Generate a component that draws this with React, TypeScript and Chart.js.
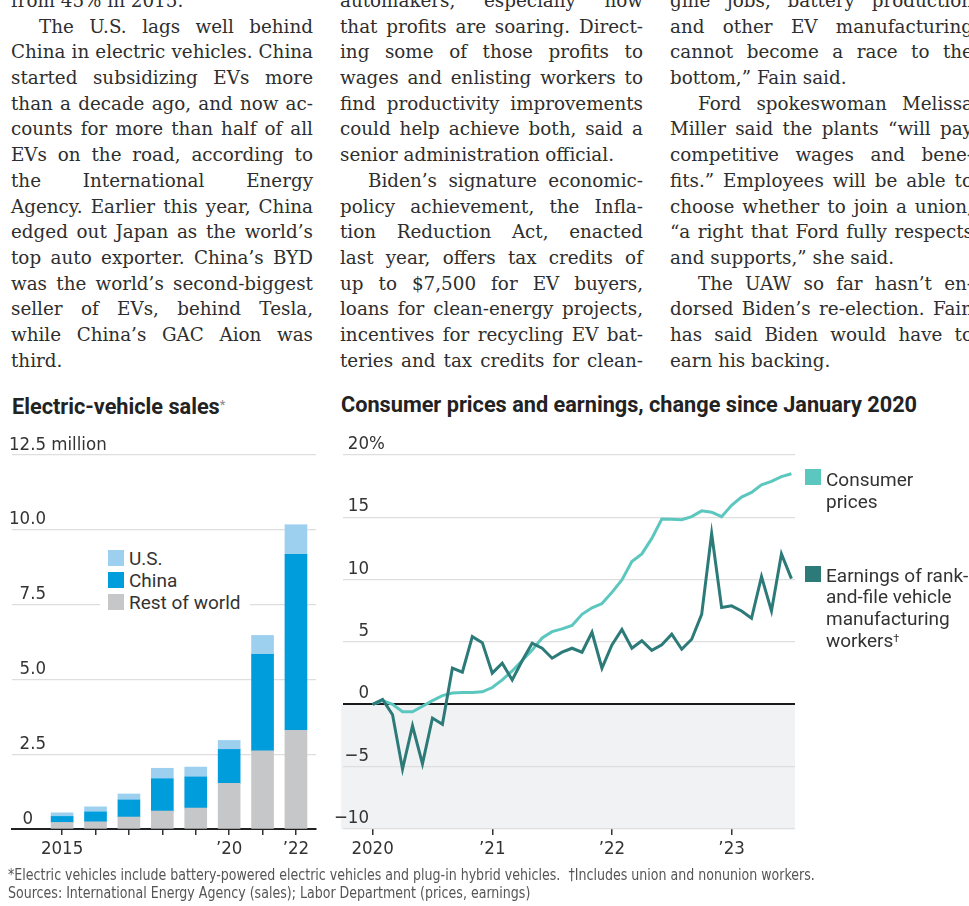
import React, { useEffect, useRef } from 'react';
import { Chart, registerables } from 'chart.js';
Chart.register(...registerables);

// ---------- Data: EV sales (millions) ----------
const evYears = [2015, 2016, 2017, 2018, 2019, 2020, 2021, 2022];
const evRest = [0.22, 0.24, 0.40, 0.60, 0.70, 1.53, 2.61, 3.30];
const evChina = [0.20, 0.33, 0.57, 1.08, 1.04, 1.13, 3.23, 5.88];
const evUS = [0.12, 0.17, 0.20, 0.35, 0.33, 0.30, 0.63, 0.99];
const evXTickLabels = ['2015', '', '', '', '', '\u201920', '', '\u201922'];
const evYTickLabels = ['0', '2.5', '5.0', '7.5', '10.0', '12.5'];

// ---------- Data: prices and earnings (% change since Jan 2020), monthly Jan 2020 - Jul 2023 ----------
const monthIndex = [
  0, 1, 2, 3, 4, 5, 6, 7, 8, 9, 10, 11,
  12, 13, 14, 15, 16, 17, 18, 19, 20, 21, 22, 23,
  24, 25, 26, 27, 28, 29, 30, 31, 32, 33, 34, 35,
  36, 37, 38, 39, 40, 41, 42,
];
const consumerPrices = [
  0, 0.3, 0.0, -0.6, -0.6, -0.15, 0.3, 0.7, 0.9, 0.95, 0.95, 1.0,
  1.35, 1.96, 2.68, 3.52, 4.35, 5.32, 5.83, 6.05, 6.33, 7.22, 7.74, 8.08,
  8.98, 9.98, 11.45, 12.07, 13.31, 14.86, 14.85, 14.81, 15.06, 15.52, 15.41, 15.05,
  15.97, 16.62, 17.0, 17.6, 17.89, 18.27, 18.5,
];
const earnings = [
  0, 0.4, -0.84, -5.2, -1.72, -4.77, -1.1, -1.6, 2.9, 2.58, 5.43, 4.95,
  2.5, 3.3, 1.96, 3.5, 4.9, 4.5, 3.7, 4.18, 4.5, 4.18, 5.78, 2.9,
  4.77, 6.0, 4.5, 5.1, 4.33, 4.77, 5.62, 4.42, 5.22, 7.22, 13.7, 7.76,
  7.9, 7.49, 6.9, 10.24, 7.49, 12.06, 10.08,
];
const yearTickMonths = [0, 12, 24, 36];
const yearTickLabels = ['2020', '\u201921', '\u201922', '\u201923'];
const pctYTickLabels = ['\u221210', '\u22125', '0', '5', '10', '15', '20'];

// ---------- Article text ----------
const col1: [string, string][] = [
  ['from 45% in 2015.', 'l'],
  ['The U.S. lags well behind', 'ji'],
  ['China in electric vehicles. China', 'j'],
  ['started subsidizing EVs more', 'j'],
  ['than a decade ago, and now ac-', 'j'],
  ['counts for more than half of all', 'j'],
  ['EVs on the road, according to', 'j'],
  ['the International Energy', 'j'],
  ['Agency. Earlier this year, China', 'j'],
  ['edged out Japan as the world\u2019s', 'j'],
  ['top auto exporter. China\u2019s BYD', 'j'],
  ['was the world\u2019s second-biggest', 'j'],
  ['seller of EVs, behind Tesla,', 'j'],
  ['while China\u2019s GAC Aion was', 'j'],
  ['third.', 'l'],
];
const col2: [string, string][] = [
  ['automakers, especially now', 'j'],
  ['that profits are soaring. Direct-', 'j'],
  ['ing some of those profits to', 'j'],
  ['wages and enlisting workers to', 'j'],
  ['find productivity improvements', 'j'],
  ['could help achieve both, said a', 'j'],
  ['senior administration official.', 'l'],
  ['Biden\u2019s signature economic-', 'ji'],
  ['policy achievement, the Infla-', 'j'],
  ['tion Reduction Act, enacted', 'j'],
  ['last year, offers tax credits of', 'j'],
  ['up to $7,500 for EV buyers,', 'j'],
  ['loans for clean-energy projects,', 'j'],
  ['incentives for recycling EV bat-', 'j'],
  ['teries and tax credits for clean-', 'j'],
];
const col3: [string, string][] = [
  ['gine jobs, battery production', 'j'],
  ['and other EV manufacturing', 'j'],
  ['cannot become a race to the', 'j'],
  ['bottom,\u201d Fain said.', 'l'],
  ['Ford spokeswoman Melissa', 'ji'],
  ['Miller said the plants \u201cwill pay', 'j'],
  ['competitive wages and bene-', 'j'],
  ['fits.\u201d Employees will be able to', 'j'],
  ['choose whether to join a union,', 'j'],
  ['\u201ca right that Ford fully respects', 'j'],
  ['and supports,\u201d she said.', 'l'],
  ['The UAW so far hasn\u2019t en-', 'ji'],
  ['dorsed Biden\u2019s re-election. Fain', 'j'],
  ['has said Biden would have to', 'j'],
  ['earn his backing.', 'l'],
];

const NARROW = "'Liberation Sans Narrow', 'DejaVu Sans Condensed', sans-serif";
const SANS = "Roboto, 'Noto Sans', sans-serif";
const LINE_H = 25.7;
const SERIF_SCALE = 0.95;

const yLabelPlugin = {
  id: 'yLabels',
  afterDraw(chart: any, _args: any, opts: any) {
    const s = chart.scales.y;
    const ctx = chart.ctx;
    ctx.save();
    ctx.font = opts.font;
    ctx.fillStyle = opts.color;
    ctx.textBaseline = 'alphabetic';
    s.ticks.forEach((t: any, i: number) => {
      const y = s.getPixelForValue(t.value) - opts.lift;
      const label = opts.labels[i];
      const xr = t.value === 0 && opts.zeroRight != null ? opts.zeroRight : opts.right;
      ctx.textAlign = 'right';
      ctx.fillText(label, xr, y);
      if (i === s.ticks.length - 1 && opts.suffix) {
        ctx.textAlign = 'left';
        ctx.fillText(opts.suffix, xr, y);
      }
    });
    ctx.restore();
  },
};

const shadePlugin = {
  id: 'shadeNeg',
  beforeDraw(chart: any, _args: any, opts: any) {
    if (!opts || !opts.color) return;
    const s = chart.scales.y;
    const a = chart.chartArea;
    const ctx = chart.ctx;
    const y0 = s.getPixelForValue(0);
    const y1 = s.getPixelForValue(s.min);
    ctx.save();
    ctx.fillStyle = opts.color;
    ctx.fillRect(a.left - 1.5, y0, a.right - a.left + 1.5, y1 - y0);
    ctx.restore();
  },
};

function EVChart() {
  const ref = useRef<HTMLCanvasElement>(null);
  useEffect(() => {
    const mk = (vals: number[]) => evYears.map((y, i) => ({ x: y, y: vals[i] }));
    const chart = new Chart(ref.current as HTMLCanvasElement, {
      type: 'bar',
      data: {
        datasets: [
          { label: 'Rest of world', data: mk(evRest), backgroundColor: '#c6c7c9', barThickness: 22 },
          { label: 'China', data: mk(evChina), backgroundColor: '#009ddc', barThickness: 22 },
          { label: 'U.S.', data: mk(evUS), backgroundColor: '#9dd0ef', barThickness: 22 },
        ],
      } as any,
      options: {
        animation: false,
        responsive: false,
        maintainAspectRatio: false,
        layout: { padding: { left: 12, right: 14, top: 25, bottom: 0 } },
        plugins: {
          legend: { display: false },
          tooltip: { enabled: false },
          yLabels: {
            labels: evYTickLabels,
            suffix: ' million',
            right: 46,
            zeroRight: 33,
            lift: 5.5,
            font: `18.5px ${NARROW}`,
            color: '#333',
          },
        } as any,
        scales: {
          x: {
            type: 'linear',
            min: 2013.5,
            max: 2022.6,
            offset: false,
            stacked: true,
            grid: { offset: false, drawOnChartArea: false, drawTicks: true, tickLength: 6, color: '#333', lineWidth: 1.5 },
            border: { display: true, color: '#222', width: 2 },
            afterBuildTicks: (s: any) => { s.ticks = evYears.map((v) => ({ value: v })); },
            afterFit: (s: any) => { s.height = 41; },
            ticks: {
              autoSkip: false,
              maxRotation: 0,
              padding: 3,
              color: '#333',
              font: { family: NARROW, size: 18.5 },
              callback: (_v: any, i: number) => evXTickLabels[i],
            },
          },
          y: {
            min: 0,
            max: 12.5,
            stacked: true,
            ticks: { display: false, stepSize: 2.5 },
            grid: { color: '#dedede', lineWidth: 1.3, drawTicks: false },
            border: { display: false },
            afterFit: (s: any) => { s.width = 0; },
          },
        } as any,
      },
      plugins: [yLabelPlugin],
    });
    return () => chart.destroy();
  }, []);
  return (
    <canvas ref={ref} width={330} height={440} style={{ position: 'absolute', left: 0, top: 430, width: 330, height: 440 }} />
  );
}

function PriceChart() {
  const ref = useRef<HTMLCanvasElement>(null);
  useEffect(() => {
    const mk = (vals: number[]) => monthIndex.map((m, i) => ({ x: m, y: vals[i] }));
    const chart = new Chart(ref.current as HTMLCanvasElement, {
      type: 'line',
      data: {
        datasets: [
          {
            label: 'Earnings of rank-and-file vehicle manufacturing workers',
            data: mk(earnings),
            borderColor: '#2c7b79',
            borderWidth: 3,
            pointRadius: 0,
            tension: 0,
          },
          {
            label: 'Consumer prices',
            data: mk(consumerPrices),
            borderColor: '#5cc7bf',
            borderWidth: 3,
            pointRadius: 0,
            tension: 0,
          },
        ],
      } as any,
      options: {
        animation: false,
        responsive: false,
        maintainAspectRatio: false,
        layout: { padding: { left: 12.7, right: 15, top: 25, bottom: 0 } },
        plugins: {
          legend: { display: false },
          tooltip: { enabled: false },
          shadeNeg: { color: '#f1f2f4' },
          yLabels: {
            labels: pctYTickLabels,
            suffix: '%',
            right: 39,
            lift: 6,
            font: `18.5px ${NARROW}`,
            color: '#333',
          },
        } as any,
        scales: {
          x: {
            type: 'linear',
            min: -3,
            max: 42.36,
            grid: { drawOnChartArea: false, drawTicks: true, tickLength: 6, color: '#333', lineWidth: 1.5 },
            border: { display: false },
            afterBuildTicks: (s: any) => { s.ticks = yearTickMonths.map((v) => ({ value: v })); },
            afterFit: (s: any) => { s.height = 41; },
            ticks: {
              autoSkip: false,
              maxRotation: 0,
              padding: 3,
              color: '#333',
              font: { family: NARROW, size: 18.5 },
              callback: (_v: any, i: number) => yearTickLabels[i],
            },
          },
          y: {
            min: -10,
            max: 20,
            ticks: { display: false, stepSize: 5 },
            grid: {
              color: (c: any) => (c.tick && c.tick.value === 0 ? '#1a1a1a' : '#dedede'),
              lineWidth: (c: any) => (c.tick && c.tick.value === 0 ? 2 : 1.3),
              drawTicks: false,
            },
            border: { display: false },
            afterFit: (s: any) => { s.width = 0; },
          },
        } as any,
      },
      plugins: [shadePlugin, yLabelPlugin],
    });
    return () => chart.destroy();
  }, []);
  return (
    <canvas ref={ref} width={480} height={440} style={{ position: 'absolute', left: 330, top: 430, width: 480, height: 440 }} />
  );
}

function Column({ lines, left, width }: { lines: [string, string][]; left: number; width: number }) {
  return (
    <div
      style={{
        position: 'absolute',
        left,
        top: -12,
        width: width / SERIF_SCALE,
        transform: `scaleX(${SERIF_SCALE})`,
        transformOrigin: '0 0',
        fontFamily: "'DejaVu Serif', serif",
        fontSize: 19.3,
        lineHeight: `${LINE_H}px`,
        color: '#2e2e2e',
      }}
    >
      {lines.map(([t, k], i) => {
        const indent = k.endsWith('i') ? 28 / SERIF_SCALE : 0;
        if (k[0] === 'j') {
          return (
            <div key={i} style={{ display: 'flex', justifyContent: 'space-between', paddingLeft: indent, whiteSpace: 'nowrap', height: LINE_H }}>
              {t.split(' ').map((w, j) => (
                <span key={j}>{w}</span>
              ))}
            </div>
          );
        }
        return (
          <div key={i} style={{ paddingLeft: indent, whiteSpace: 'nowrap', height: LINE_H }}>
            {t}
          </div>
        );
      })}
    </div>
  );
}

const sq = (color: string, left: number, top: number) => (
  <div style={{ position: 'absolute', left, top, width: 16, height: 16, background: color }} />
);

export default function App() {
  const legendText: React.CSSProperties = {
    position: 'absolute',
    fontFamily: SANS,
    fontSize: 19,
    lineHeight: '22px',
    color: '#333',
    whiteSpace: 'nowrap',
  };
  return (
    <div style={{ position: 'absolute', left: 0, top: 0, width: 969, height: 906, overflow: 'hidden', background: '#fff' }}>
      <Column lines={col1} left={11} width={302} />
      <Column lines={col2} left={340} width={303} />
      <Column lines={col3} left={670} width={303} />

      {/* titles */}
      <div style={{ position: 'absolute', left: 12, top: 395.5, fontFamily: SANS, fontWeight: 700, fontSize: 21.7, lineHeight: '21.7px', color: '#222', whiteSpace: 'nowrap' }}>
        Electric-vehicle sales
        <span style={{ fontWeight: 400, fontSize: 13, color: '#888', verticalAlign: 'top', position: 'relative', top: -2 }}>*</span>
      </div>
      <div style={{ position: 'absolute', left: 341, top: 393.5, fontFamily: SANS, fontWeight: 700, fontSize: 21.7, lineHeight: '21.7px', color: '#222', whiteSpace: 'nowrap' }}>
        Consumer prices and earnings, change since January 2020
      </div>

      <EVChart />
      <PriceChart />

      {/* EV legend */}
      <div style={{ position: 'absolute', left: 100, top: 547, width: 150, height: 68, background: '#fff' }} />
      {sq('#9dd0ef', 108, 550)}
      {sq('#009ddc', 108, 572)}
      {sq('#c6c7c9', 108, 594)}
      <div style={{ ...legendText, left: 129, top: 548 }}>U.S.</div>
      <div style={{ ...legendText, left: 129, top: 570 }}>China</div>
      <div style={{ ...legendText, left: 129, top: 592 }}>Rest of world</div>

      {/* Price legend */}
      {sq('#5cc7bf', 805, 469)}
      {sq('#2c7b79', 805, 566)}
      <div style={{ ...legendText, left: 826, top: 469 }}>
        Consumer
        <br />
        prices
      </div>
      <div style={{ ...legendText, left: 826, top: 564.5, lineHeight: '21.7px' }}>
        Earnings of rank-
        <br />
        and-file vehicle
        <br />
        manufacturing
        <br />
        workers<sup style={{ fontSize: 11, verticalAlign: 'top', position: 'relative', top: -2 }}>{'\u2020'}</sup>
      </div>

      {/* footnotes */}
      <div
        style={{
          position: 'absolute',
          left: 8,
          top: 866,
          fontFamily: NARROW,
          fontSize: 15.5,
          lineHeight: '18px',
          color: '#555',
          whiteSpace: 'nowrap',
          transform: 'scaleX(0.905)',
          transformOrigin: '0 0',
        }}
      >
        *Electric vehicles include battery-powered electric vehicles and plug-in hybrid vehicles.&nbsp;&nbsp;{'\u2020'}Includes union and nonunion workers.
        <br />
        Sources: International Energy Agency (sales); Labor Department (prices, earnings)
      </div>
    </div>
  );
}
